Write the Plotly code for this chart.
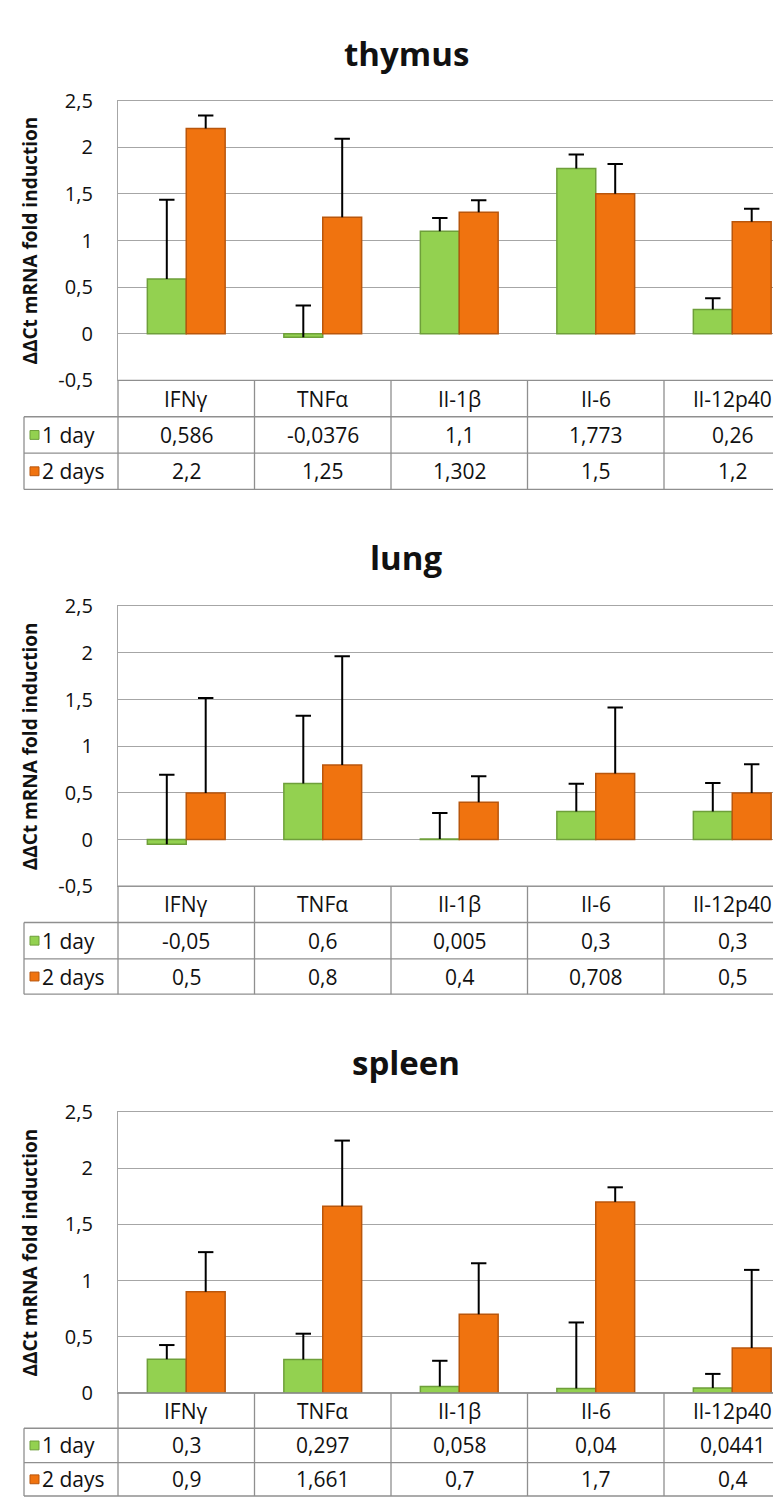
import plotly.graph_objects as go

# ---------------- data ----------------
categories = ["IFNγ", "TNFα", "Il-1β", "Il-6", "Il-12p40"]
series_names = ["1 day", "2 days"]

thymus_day1 = [0.586, -0.0376, 1.1, 1.773, 0.26]
thymus_day2 = [2.2, 1.25, 1.302, 1.5, 1.2]
thymus_err1 = [0.85, 0.34, 0.14, 0.15, 0.12]
thymus_err2 = [0.14, 0.84, 0.13, 0.32, 0.14]

lung_day1 = [-0.05, 0.6, 0.005, 0.3, 0.3]
lung_day2 = [0.5, 0.8, 0.4, 0.708, 0.5]
lung_err1 = [0.745, 0.726, 0.279, 0.297, 0.307]
lung_err2 = [1.016, 1.165, 0.278, 0.707, 0.307]

spleen_day1 = [0.3, 0.297, 0.058, 0.04, 0.0441]
spleen_day2 = [0.9, 1.661, 0.7, 1.7, 0.4]
spleen_err1 = [0.126, 0.23, 0.228, 0.587, 0.125]
spleen_err2 = [0.353, 0.585, 0.454, 0.13, 0.695]

ytick_vals = [-0.5, 0, 0.5, 1, 1.5, 2, 2.5]
ytick_text = ["-0,5", "0", "0,5", "1", "1,5", "2", "2,5"]

axis_title = "ΔΔCt mRNA fold induction"

# ---------------- styling / layout ----------------
W, H = 781, 1502
L = 110
PW = W - L
CAT_W = 136.5
FONT = "Open Sans"
GREEN = "#93D150"
GREEN_LINE = "#6E9F3A"
ORANGE = "#F0730F"
ORANGE_LINE = "#B9560C"
GRID = "#A6A6A6"
TABLE = "#8F8F8F"
TEXT = "#111111"


def fx(p):
    return (p - L) / PW


def fy(p):
    return 1 - p / H


def fmt(v):
    return str(v).replace(".", ",")


panels = [
    dict(title="thymus", d1=thymus_day1, d2=thymus_day2, e1=thymus_err1, e2=thymus_err2,
         ymin=-0.5, top=80, bottom=365, title_y=32, rows=[365, 402, 439, 476]),
    dict(title="lung", d1=lung_day1, d2=lung_day2, e1=lung_err1, e2=lung_err2,
         ymin=-0.5, top=595, bottom=880, title_y=545, rows=[880, 917, 954, 990]),
    dict(title="spleen", d1=spleen_day1, d2=spleen_day2, e1=spleen_err1, e2=spleen_err2,
         ymin=0, top=1110, bottom=1396, title_y=1060, rows=[1396, 1432, 1467, 1501]),
]

xs = list(range(len(categories)))

fig = go.Figure()
shapes = []
annotations = []

for k, p in enumerate(panels):
    sfx = "" if k == 0 else str(k + 1)
    xa, ya = "x" + sfx, "y" + sfx

    series = [
        (p["d1"], p["e1"], GREEN, GREEN_LINE, series_names[0], "g1"),
        (p["d2"], p["e2"], ORANGE, ORANGE_LINE, series_names[1], "g2"),
    ]
    for vals, errs, col, lcol, nm, og in series:
        fig.add_trace(go.Bar(
            x=xs, y=vals, name=nm, xaxis=xa, yaxis=ya, showlegend=False,
            offsetgroup=og, alignmentgroup="a" + sfx,
            marker=dict(color=col, line=dict(color=lcol, width=1.5)),
        ))
    # one-sided (plus) error bars: cap only at the top end
    for vals, errs, col, lcol, nm, og in series:
        tops = [v + e for v, e in zip(vals, errs)]
        fig.add_trace(go.Scatter(
            x=xs, y=tops, mode="markers", xaxis=xa, yaxis=ya, showlegend=False,
            offsetgroup=og, alignmentgroup="a" + sfx, hoverinfo="skip",
            marker=dict(symbol="line-ew", size=11, color="black",
                        line=dict(color="black", width=2)),
            error_y=dict(type="data", symmetric=False, array=[0] * len(errs),
                         arrayminus=errs, color="black", thickness=2, width=0),
        ))

    tv = [v for v in ytick_vals if v >= p["ymin"]]
    tt = [t for v, t in zip(ytick_vals, ytick_text) if v >= p["ymin"]]

    fig.layout["xaxis" + sfx] = dict(
        domain=[0, 1], anchor=ya, range=[-0.5, -0.5 + PW / CAT_W],
        showticklabels=False, ticks="", showgrid=False, zeroline=False,
        showline=True, mirror=True, linecolor=GRID, linewidth=1.3, fixedrange=True)
    fig.layout["yaxis" + sfx] = dict(
        domain=[fy(p["bottom"]), fy(p["top"])], anchor=xa, range=[p["ymin"], 2.5],
        tickvals=tv, ticktext=tt, ticks="", ticklabelstandoff=20,
        tickfont=dict(family=FONT, size=20, color=TEXT),
        showgrid=True, gridcolor=GRID, gridwidth=1.3,
        zeroline=True, zerolinecolor=GRID, zerolinewidth=1.3,
        showline=True, linecolor=GRID, linewidth=1.3, fixedrange=True)

    # panel title
    annotations.append(dict(
        text="<b>" + p["title"] + "</b>", xref="paper", yref="paper",
        x=fx(398), y=fy(p["title_y"]), xanchor="center", yanchor="middle",
        showarrow=False, font=dict(family=FONT, size=33, color=TEXT)))
    # axis title
    annotations.append(dict(
        text="<b>" + axis_title + "</b>", xref="paper", yref="paper",
        x=fx(22), y=fy((p["top"] + p["bottom"]) / 2), xanchor="center", yanchor="middle",
        textangle=-90, showarrow=False, font=dict(family=FONT, size=19, color=TEXT)))

    # data table
    r0, r1, r2, r3 = p["rows"]
    line = dict(color=TABLE, width=1.3)
    shapes.append(dict(type="line", xref="paper", yref="paper", x0=0, x1=1,
                       y0=fy(r0), y1=fy(r0), line=line))
    for r in (r1, r2, r3):
        shapes.append(dict(type="line", xref="paper", yref="paper", x0=fx(16), x1=1,
                           y0=fy(r), y1=fy(r), line=line))
    shapes.append(dict(type="line", xref="paper", yref="paper", x0=0, x1=0,
                       y0=fy(r0), y1=fy(r3), line=line))
    shapes.append(dict(type="line", xref="paper", yref="paper", x0=fx(16), x1=fx(16),
                       y0=fy(r1), y1=fy(r3), line=line))
    for i in range(len(categories) - 1):
        shapes.append(dict(type="line", xref=xa, yref="paper", x0=i + 0.5, x1=i + 0.5,
                           y0=fy(r0), y1=fy(r3), line=line))

    tfont = dict(family=FONT, size=21, color=TEXT)
    for i, c in enumerate(categories):
        annotations.append(dict(text=c, xref=xa, yref="paper", x=i, y=fy((r0 + r1) / 2),
                                xanchor="center", yanchor="middle", showarrow=False, font=tfont))
        annotations.append(dict(text=fmt(p["d1"][i]), xref=xa, yref="paper", x=i,
                                y=fy((r1 + r2) / 2), xanchor="center", yanchor="middle",
                                showarrow=False, font=tfont))
        annotations.append(dict(text=fmt(p["d2"][i]), xref=xa, yref="paper", x=i,
                                y=fy((r2 + r3) / 2), xanchor="center", yanchor="middle",
                                showarrow=False, font=tfont))

    for (ra, rb), col, lcol, nm in [((r1, r2), GREEN, GREEN_LINE, series_names[0]),
                                     ((r2, r3), ORANGE, ORANGE_LINE, series_names[1])]:
        cy = (ra + rb) / 2
        shapes.append(dict(type="rect", xref="paper", yref="paper",
                           x0=fx(22), x1=fx(31), y0=fy(cy + 4.5), y1=fy(cy - 4.5),
                           fillcolor=col, line=dict(color=lcol, width=1)))
        annotations.append(dict(text=nm, xref="paper", yref="paper", x=fx(32), y=fy(cy),
                                xanchor="left", yanchor="middle", showarrow=False, font=tfont))

fig.update_layout(
    width=W, height=H, margin=dict(l=L, r=0, t=0, b=0),
    paper_bgcolor="white", plot_bgcolor="white",
    barmode="group", bargap=0.43, bargroupgap=0,
    scattermode="group", scattergap=0.43,
    shapes=shapes, annotations=annotations,
    font=dict(family=FONT, color=TEXT),
)

fig.write_html("out.html")
